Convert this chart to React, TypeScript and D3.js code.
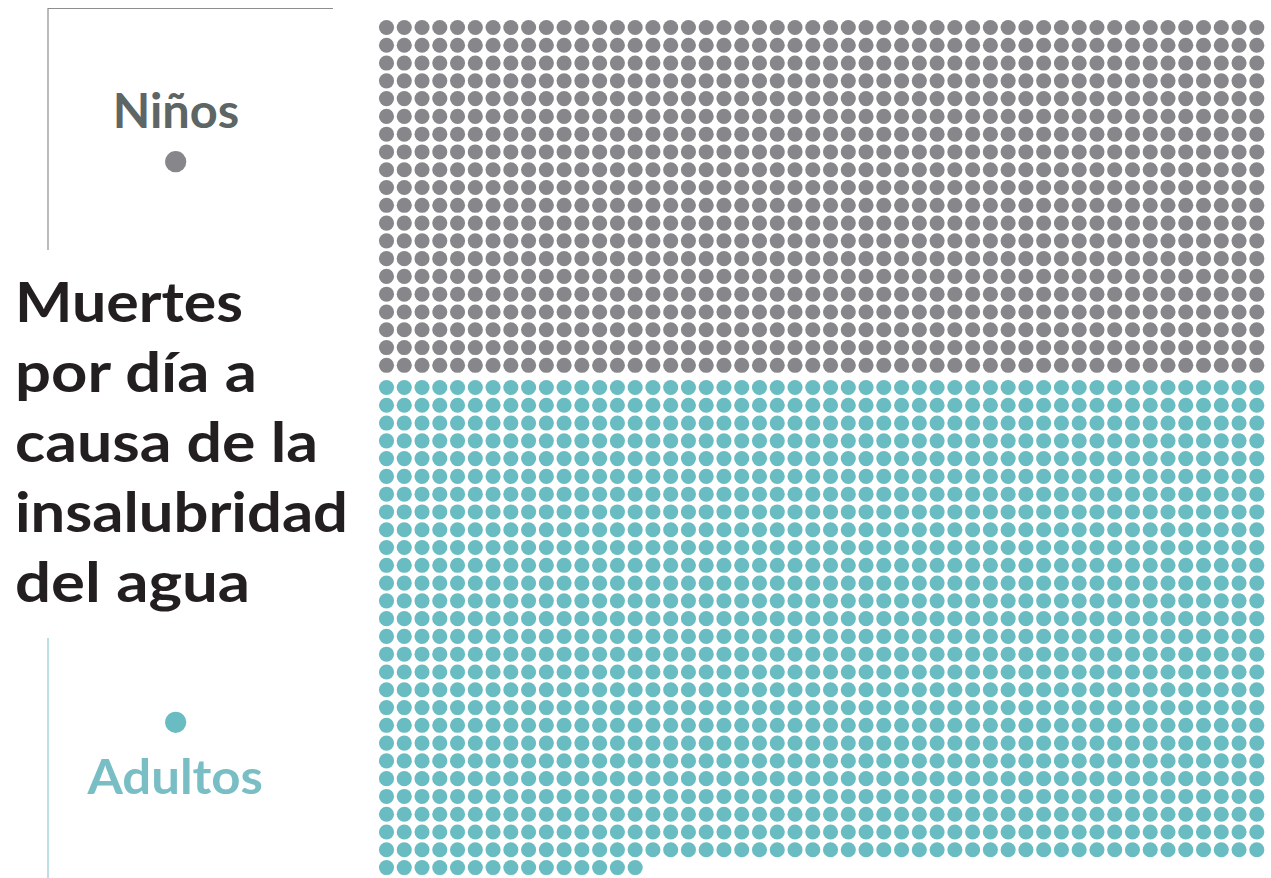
import React from "react";
import * as d3 from "d3";

const categories = ["Niños", "Adultos"];
const deathsPerDay = [1000, 1365];
const categoryColors = ["#87878b", "#69bcc1"];
const labelColors = ["#5e6565", "#79bec4"];
const titleLines = ["Muertes", "por día a", "causa de la", "insalubridad", "del agua"];

const W = 1271;
const H = 878;
const COLS = 50;

export default function App() {
  const x = d3.scaleLinear().domain([0, COLS - 1]).range([386.5, 1256.8]);
  const step = 17.78;
  const groupTops = [27.5, 387.5];

  const dots: { cx: number; cy: number; fill: string; key: string }[] = [];
  deathsPerDay.forEach((n, gi) => {
    const rows = Math.ceil(n / COLS);
    const y = d3.scaleLinear().domain([0, rows - 1]).range([groupTops[gi], groupTops[gi] + (rows - 1) * step]);
    d3.range(n).forEach((i) => {
      const r = Math.floor(i / COLS);
      const c = i % COLS;
      dots.push({ cx: x(c), cy: y(r), fill: categoryColors[gi], key: `${gi}-${i}` });
    });
  });

  const font = "Lato, 'Open Sans', sans-serif";
  const titleWidths = [228, 242, 303, 333, 235];

  return (
    <svg width={W} height={H} style={{ position: "absolute", left: 0, top: 0, background: "#fff" }}>
      {/* top-left bracket for children */}
      <path d="M48,250 V8.5 H333" fill="none" stroke="#8e8e8e" strokeWidth={1.2} />
      <text
        x={112.7}
        y={127.5}
        fontFamily={font}
        fontWeight={700}
        fontSize={47}
        fill={labelColors[0]}
        textLength={126.5}
        lengthAdjust="spacingAndGlyphs"
      >
        {categories[0]}
      </text>
      <circle cx={175.7} cy={161.7} r={10.6} fill={categoryColors[0]} />

      {titleLines.map((t, i) => (
        <text
          key={t}
          x={15}
          y={321.7 + i * 70}
          fontFamily={font}
          fontWeight={700}
          fontSize={55}
          fill="#231f20"
          textLength={titleWidths[i]}
          lengthAdjust="spacingAndGlyphs"
        >
          {t}
        </text>
      ))}

      {/* bottom-left line for adults */}
      <line x1={48} x2={48} y1={638} y2={878} stroke="#8fcad0" strokeWidth={1.2} />
      <circle cx={175.7} cy={722.3} r={10.6} fill={categoryColors[1]} />
      <text
        x={87.5}
        y={794}
        fontFamily={font}
        fontWeight={700}
        fontSize={47}
        fill={labelColors[1]}
        textLength={175.5}
        lengthAdjust="spacingAndGlyphs"
      >
        {categories[1]}
      </text>

      {dots.map((d) => (
        <circle key={d.key} cx={d.cx} cy={d.cy} r={7.55} fill={d.fill} />
      ))}
    </svg>
  );
}
